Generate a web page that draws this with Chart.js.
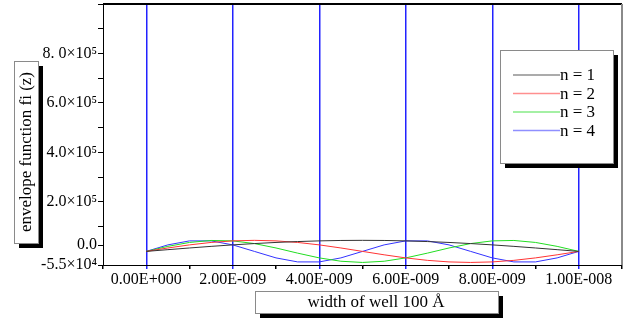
<!DOCTYPE html>
<html lang="en">
<head>
    <meta charset="UTF-8">
    <title>Envelope functions</title>
    <style>
        body { margin: 0; background: #ffffff; }
        canvas { display: block; }
    </style>
    <script src="https://cdn.jsdelivr.net/npm/chart.js@4/dist/chart.umd.min.js"></script>
</head>
<body>
    <canvas id="envChart" width="632" height="326"></canvas>

    <script>
        // position in the well (m)
        const zValues = [0, 0.5e-9, 1.0e-9, 1.5e-9, 2.0e-9, 2.5e-9, 3.0e-9, 3.5e-9, 4.0e-9, 4.5e-9,
                         5.0e-9, 5.5e-9, 6.0e-9, 6.5e-9, 7.0e-9, 7.5e-9, 8.0e-9, 8.5e-9, 9.0e-9, 9.5e-9, 1.0e-8];

        // envelope function values
        const n1 = [0, 7000, 13800, 20300, 26300, 31600, 36200, 39800, 42500, 44200, 44700,
                    44200, 42500, 39800, 36200, 31600, 26300, 20300, 13800, 7000, 0];
        const n2 = [0, 13800, 26300, 36200, 42500, 44700, 42500, 36200, 26300, 13800, 0,
                    -13800, -26300, -36200, -42500, -44700, -42500, -36200, -26300, -13800, 0];
        const n3 = [0, 20300, 36200, 44200, 42500, 31600, 13800, -7000, -26300, -39800, -44700,
                    -39800, -26300, -7000, 13800, 31600, 42500, 44200, 36200, 20300, 0];
        const n4 = [0, 26300, 42500, 42500, 26300, 0, -26300, -42500, -42500, -26300, 0,
                    26300, 42500, 42500, 26300, 0, -26300, -42500, -42500, -26300, 0];

        const seriesLabels = ['n = 1', 'n = 2', 'n = 3', 'n = 4'];
        const seriesColors = ['#333333', '#ff3333', '#22dd22', '#3333ff'];

        const xTickValues = [0, 2e-9, 4e-9, 6e-9, 8e-9, 1e-8];
        const xTickLabels = ['0.00E+000', '2.00E-009', '4.00E-009', '6.00E-009', '8.00E-009', '1.00E-008'];
        const xMinorStep = 1e-9;

        const yTickValues = [-55000, 25000, 200000, 400000, 600000, 800000];
        const yTickLabels = ['-5.5\u00d710\u2074', '0.0', '2.0\u00d710\u2075', '4.0\u00d710\u2075', '6.0\u00d710\u2075', '8. 0\u00d710\u2075'];
        const yMinorValues = [100000, 300000, 500000, 700000, 900000, 1000000];

        const xTitle = 'width of well 100 \u00c5';
        const yTitle = 'envelope function fi (z)';

        const serif = "'Liberation Serif', 'Times New Roman', serif";

        function majorIndex(list, v, tol) {
            return list.findIndex(t => Math.abs(t - v) < tol);
        }

        function shadowBox(ctx, x, y, w, h) {
            ctx.fillStyle = '#000';
            ctx.fillRect(x + 5, y + 5, w, h);
            ctx.fillStyle = '#fff';
            ctx.fillRect(x, y, w, h);
            ctx.strokeStyle = '#8a8a8a';
            ctx.lineWidth = 1;
            ctx.strokeRect(x + 0.5, y + 0.5, w, h);
        }

        const decorations = {
            id: 'decorations',
            afterDraw(chart) {
                const ctx = chart.ctx;
                const a = chart.chartArea;
                ctx.save();

                // frame: top black, right gray
                ctx.fillStyle = '#000';
                ctx.fillRect(a.left, a.top - 1, a.right - a.left, 2);
                ctx.fillStyle = '#8a8a8a';
                ctx.fillRect(a.right - 1, a.top, 2, a.bottom - a.top);

                // legend
                shadowBox(ctx, 500, 50, 113, 113);
                ctx.font = '17px ' + serif;
                ctx.textBaseline = 'middle';
                ctx.textAlign = 'left';
                chart.data.datasets.forEach((ds, i) => {
                    const y = 75 + i * 18.5;
                    ctx.globalAlpha = 0.55;
                    ctx.strokeStyle = ds.borderColor;
                    ctx.lineWidth = 1.5;
                    ctx.beginPath();
                    ctx.moveTo(513, y);
                    ctx.lineTo(560, y);
                    ctx.stroke();
                    ctx.globalAlpha = 1;
                    ctx.fillStyle = '#000';
                    ctx.fillText(ds.label, 560, y + 1);
                });

                // y axis title
                shadowBox(ctx, 14, 61, 24, 182);
                ctx.save();
                ctx.translate(27, 152);
                ctx.rotate(-Math.PI / 2);
                ctx.textAlign = 'center';
                ctx.fillStyle = '#000';
                ctx.font = '17px ' + serif;
                ctx.fillText(yTitle, 0, 0);
                ctx.restore();

                // x axis title
                shadowBox(ctx, 255, 291, 243, 22);
                ctx.textAlign = 'center';
                ctx.fillStyle = '#000';
                ctx.font = '17px ' + serif;
                ctx.fillText(xTitle, 376, 303);

                ctx.restore();
            }
        };

        const datasets = [n1, n2, n3, n4].map((vals, i) => ({
            label: seriesLabels[i],
            data: vals.map((v, k) => ({ x: zValues[k], y: v })),
            borderColor: seriesColors[i],
            borderWidth: 1,
            pointRadius: 0,
            fill: false,
            tension: 0
        }));

        new Chart(document.getElementById('envChart').getContext('2d'), {
            type: 'line',
            data: { datasets: datasets },
            plugins: [decorations],
            options: {
                responsive: false,
                animation: false,
                devicePixelRatio: 1,
                layout: { padding: { left: 0, top: 4, right: 10, bottom: 0 } },
                plugins: {
                    legend: { display: false },
                    tooltip: { enabled: false }
                },
                scales: {
                    x: {
                        type: 'linear',
                        min: -1e-9,
                        max: 1.1e-8,
                        afterFit: s => { s.height = 61; s.paddingLeft = 0; s.paddingRight = 0; },
                        afterBuildTicks: s => {
                            const t = [];
                            for (let k = -1; k <= 11; k++) t.push({ value: k * xMinorStep });
                            s.ticks = t;
                        },
                        ticks: {
                            autoSkip: false,
                            maxRotation: 0,
                            padding: 1,
                            color: '#000',
                            font: { family: serif, size: 16 },
                            callback: v => {
                                const i = majorIndex(xTickValues, v, 1e-12);
                                return i >= 0 ? xTickLabels[i] : '';
                            }
                        },
                        grid: {
                            drawOnChartArea: true,
                            drawTicks: true,
                            tickLength: 4,
                            lineWidth: 1.5,
                            color: c => majorIndex(xTickValues, c.tick ? c.tick.value : NaN, 1e-12) >= 0 ? '#2222ff' : 'rgba(0,0,0,0)',
                            tickColor: c => majorIndex(xTickValues, c.tick ? c.tick.value : NaN, 1e-12) >= 0 ? '#2222ff' : '#000'
                        },
                        border: { display: true, color: '#000', width: 1 }
                    },
                    y: {
                        type: 'linear',
                        min: -55000,
                        max: 1000000,
                        afterFit: s => { s.width = 103; s.paddingTop = 0; s.paddingBottom = 0; },
                        afterBuildTicks: s => {
                            s.ticks = yTickValues.concat(yMinorValues)
                                .sort((a, b) => a - b)
                                .map(v => ({ value: v }));
                        },
                        ticks: {
                            autoSkip: false,
                            padding: 1,
                            color: '#000',
                            font: { family: serif, size: 16 },
                            callback: v => {
                                const i = majorIndex(yTickValues, v, 1);
                                return i >= 0 ? yTickLabels[i] : '';
                            }
                        },
                        grid: {
                            drawOnChartArea: false,
                            drawTicks: true,
                            tickLength: 5,
                            color: '#000',
                            tickColor: '#000'
                        },
                        border: { display: true, color: '#000', width: 1 }
                    }
                }
            }
        });
    </script>
</body>
</html>
